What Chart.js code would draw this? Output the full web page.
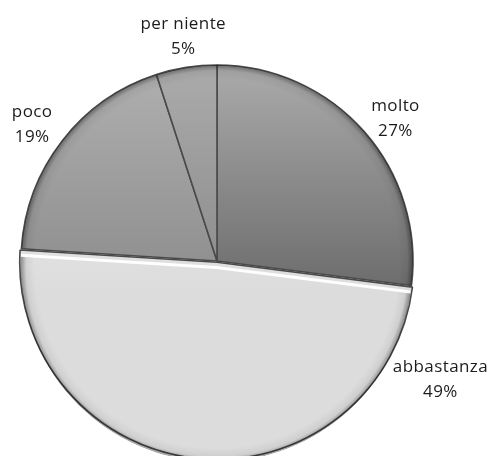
<!DOCTYPE html>
<html>
<head>
<meta charset="utf-8">
<script src="https://cdn.jsdelivr.net/npm/chart.js@4"></script>
<style>
  html, body { margin: 0; padding: 0; background: #fff; }
  #wrap { width: 492px; height: 456px; }
</style>
</head>
<body>
<div id="wrap"><canvas id="pie"></canvas></div>
<script>
// risposte al questionario
const categories = ['molto', 'abbastanza', 'poco', 'per niente'];
const values = [27, 49, 19, 5];

// colori di ogni fetta: [alto, basso]
const shades = [
    ['#ababab', '#6c6c6c'],
    ['#f2f2f2', '#dcdcdc'],
    ['#b0b0b0', '#8c8c8c'],
    ['#ababab', '#8a8a8a']
];

// posizione delle etichette: angolo (gradi) e distanza dal centro
const labelPlace = [[-37.6, 225], [28.9, 255], [215.4, 227], [261.2, 222]];

const RADIUS = 196;
const EXPLODE = [0, 5, 0, 0];

function sliceFill(context) {
    const chart = context.chart;
    const area = chart.chartArea;
    const i = context.dataIndex;
    if (!area || i === undefined) return shades[i || 0][0];
    const cy = (area.top + area.bottom) / 2;
    const g = chart.ctx.createLinearGradient(0, cy - RADIUS, 0, cy + RADIUS * 0.15);
    g.addColorStop(0, shades[i][0]);
    g.addColorStop(1, shades[i][1]);
    return g;
}

// ombreggiatura sul bordo esterno, riflesso sui lati della fetta staccata
const rimShade = {
    id: 'rimShade',
    afterDatasetsDraw(chart) {
        const ctx = chart.ctx;
        const arcs = chart.getDatasetMeta(0).data;
        arcs.forEach((arc, i) => {
            const p = arc.getProps(['x', 'y', 'startAngle', 'endAngle', 'outerRadius']);
            const mid = (p.startAngle + p.endAngle) / 2;
            const off = EXPLODE[i];
            const x = p.x + Math.cos(mid) * off;
            const y = p.y + Math.sin(mid) * off;
            const r = p.outerRadius;
            ctx.save();
            ctx.beginPath();
            ctx.moveTo(x, y);
            ctx.arc(x, y, r, p.startAngle, p.endAngle);
            ctx.closePath();
            ctx.clip();
            const g = ctx.createRadialGradient(x, y, r - 14, x, y, r);
            g.addColorStop(0, 'rgba(0,0,0,0)');
            g.addColorStop(0.6, 'rgba(0,0,0,0.06)');
            g.addColorStop(1, 'rgba(0,0,0,0.38)');
            ctx.fillStyle = g;
            ctx.fill();
            if (off > 0) {
                ctx.strokeStyle = 'rgba(255,255,255,0.95)';
                ctx.lineWidth = 6;
                ctx.beginPath();
                ctx.moveTo(x + Math.cos(p.startAngle) * r, y + Math.sin(p.startAngle) * r);
                ctx.lineTo(x, y);
                ctx.lineTo(x + Math.cos(p.endAngle) * r, y + Math.sin(p.endAngle) * r);
                ctx.stroke();
            }
            ctx.restore();
        });
    }
};

// etichette esterne: nome e percentuale
const outsideLabels = {
    id: 'outsideLabels',
    afterDraw(chart) {
        const ctx = chart.ctx;
        const arcs = chart.getDatasetMeta(0).data;
        const total = values.reduce((a, b) => a + b, 0);
        const ls = 0.4;
        ctx.save();
        ctx.font = '17px "Open Sans", Lato, sans-serif';
        ctx.letterSpacing = ls + 'px';
        ctx.fillStyle = '#1c1c1c';
        ctx.textAlign = 'center';
        ctx.textBaseline = 'alphabetic';
        arcs.forEach((arc, i) => {
            const a = labelPlace[i][0] * Math.PI / 180;
            const d = labelPlace[i][1];
            const lx = arc.x + Math.cos(a) * d + ls / 2;
            const ly = arc.y + Math.sin(a) * d;
            const pct = Math.round(values[i] / total * 100) + '%';
            ctx.fillText(categories[i], lx, ly - 12.5);
            ctx.fillText(pct, lx, ly + 12.5);
        });
        ctx.restore();
    }
};

new Chart(document.getElementById('pie'), {
    type: 'pie',
    data: {
        labels: categories,
        datasets: [{
            data: values,
            backgroundColor: sliceFill,
            borderColor: '#4a4a4a',
            borderWidth: 1.6,
            offset: EXPLODE,
            clip: false
        }]
    },
    options: {
        responsive: true,
        maintainAspectRatio: false,
        animation: false,
        radius: RADIUS,
        layout: { padding: { left: 0, right: 58, top: 66, bottom: 0 } },
        plugins: {
            legend: { display: false },
            tooltip: { enabled: false }
        }
    },
    plugins: [rimShade, outsideLabels]
});
</script>
</body>
</html>
